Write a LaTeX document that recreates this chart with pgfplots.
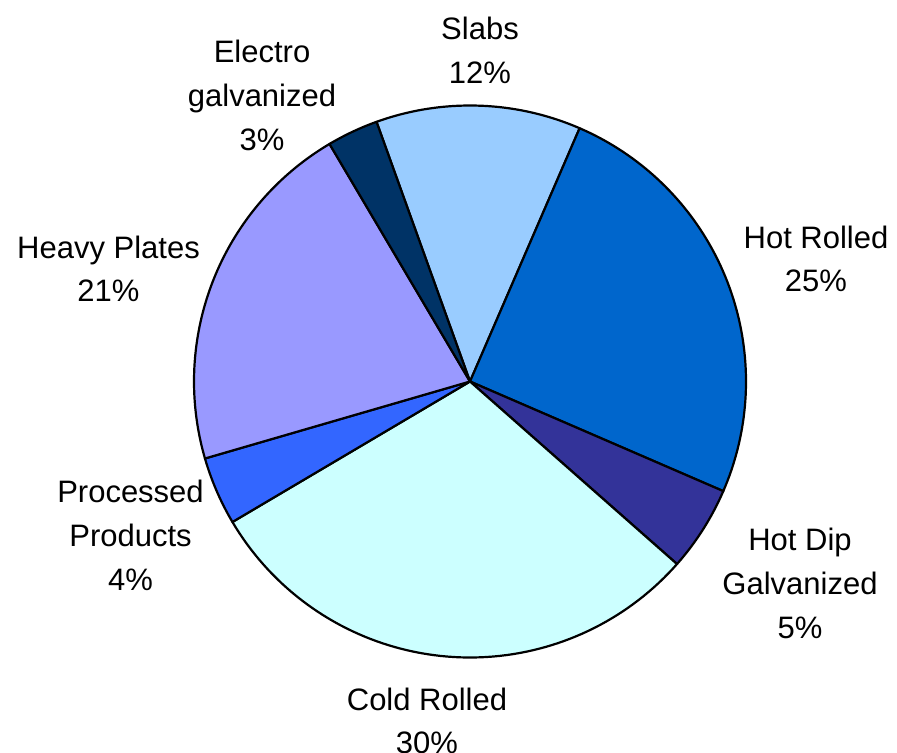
\documentclass[border=0pt]{standalone}
\usepackage{fontspec}
\setmainfont{Liberation Sans}
\usepackage{pgfplots}
\pgfplotsset{compat=1.18}

\definecolor{slabs}{HTML}{99CCFF}
\definecolor{hotrolled}{HTML}{0066CC}
\definecolor{hotdip}{HTML}{333399}
\definecolor{coldrolled}{HTML}{CCFFFF}
\definecolor{processed}{HTML}{3366FF}
\definecolor{heavy}{HTML}{9999FF}
\definecolor{electro}{HTML}{003366}

% pie geometry (axis units): centre, radius, angle where the first slice starts
\def\cx{470}
\def\cy{370.5}
\def\rad{276}
\def\startangle{109.8}

% #1 = share of the slices before, #2 = share of this slice (percent), #3 = colour
\newcommand\slice[3]{%
  \pgfmathsetmacro\angA{\startangle-3.6*(#1+#2)}%
  \pgfmathsetmacro\angB{\startangle-3.6*(#1)}%
  \addplot[fill=#3, draw=black, line width=1.1pt, line join=round,
    domain=\angA:\angB, samples=80, variable=\t]
    ({\cx+\rad*cos(\t)},{\cy+\rad*sin(\t)}) -- (\cx,\cy) -- cycle;
}

% labels are placed by the baseline of their last line
\tikzset{lbl/.style={font=\fontsize{15.5pt}{21.85pt}\selectfont, align=center, anchor=base, inner sep=0pt}}

\begin{document}
\begin{tikzpicture}
\begin{axis}[
  scale only axis, width=448.5pt, height=376pt,
  xmin=0, xmax=897, ymin=0, ymax=752,
  hide axis, clip=false,
]
\slice{0}{12}{slabs}
\slice{12}{25}{hotrolled}
\slice{37}{5}{hotdip}
\slice{42}{30}{coldrolled}
\slice{72}{4}{processed}
\slice{76}{21}{heavy}
\slice{97}{3}{electro}

\node[lbl] at (480,668.7) {Slabs\\12\%};
\node[lbl] at (816,460.3) {Hot Rolled\\25\%};
\node[lbl] at (800,114) {Hot Dip\\Galvanized\\5\%};
\node[lbl] at (427,-1.7) {Cold Rolled\\30\%};
\node[lbl] at (130.5,162) {Processed\\Products\\4\%};
\node[lbl] at (108.5,450.3) {Heavy Plates\\21\%};
\node[lbl] at (262,602) {Electro\\galvanized\\3\%};
\end{axis}
\pgfresetboundingbox
\useasboundingbox (current axis.south west) rectangle (current axis.north east);
\end{tikzpicture}
\end{document}
